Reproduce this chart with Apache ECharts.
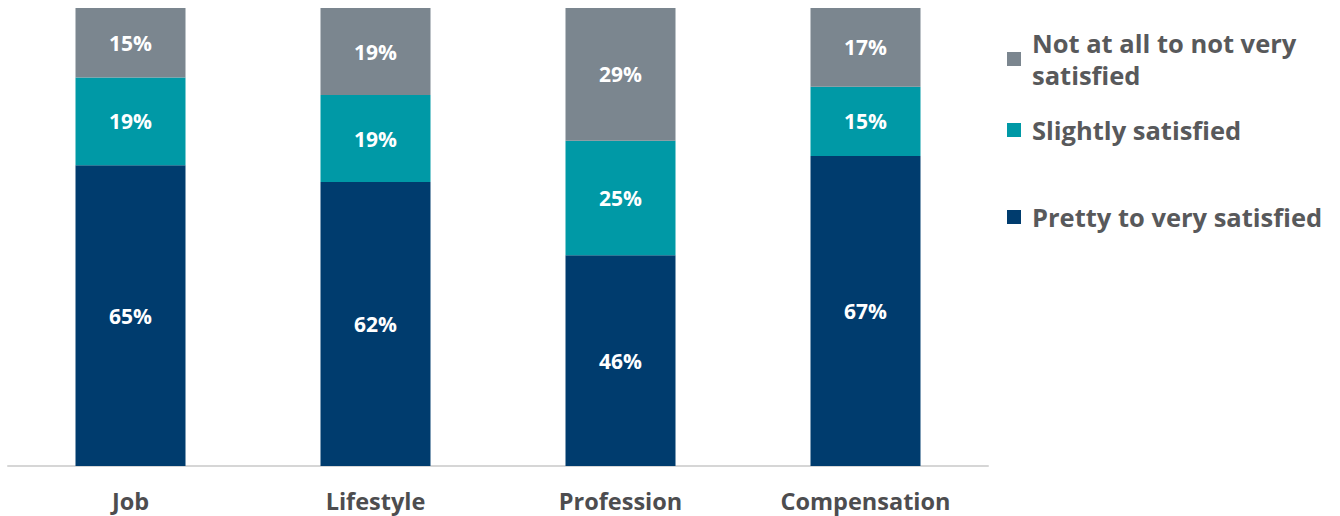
<!DOCTYPE html>
<html>
<head>
<meta charset="utf-8">
<script src="https://cdn.jsdelivr.net/npm/echarts@6/dist/echarts.min.js"></script>
<style>
  html, body { margin: 0; padding: 0; background: #fff; }
  #chart { width: 1340px; height: 516px; }
</style>
</head>
<body>
<div id="chart"></div>
<script>
const categories = ['Job', 'Lifestyle', 'Profession', 'Compensation'];
const prettyToVery = [65, 62, 46, 67];
const slightly = [19, 19, 25, 15];
const notAtAll = [15, 19, 29, 17];

const seriesNames = ['Pretty to very satisfied', 'Slightly satisfied', 'Not at all to not very satisfied'];
const colors = ['#003c6e', '#0099a6', '#7b868f'];

// each bar is drawn as a 100% stack
const totals = categories.map((_, i) => prettyToVery[i] + slightly[i] + notAtAll[i]);
const share = arr => arr.map((v, i) => ({ value: v / totals[i] * 100, raw: v }));

const chart = echarts.init(document.getElementById('chart'), null, { renderer: 'svg' });

const labelFont = '"Open Sans", Lato, sans-serif';

const makeSeries = (name, arr, color) => ({
  name,
  type: 'bar',
  stack: 'total',
  barWidth: 110,
  data: share(arr),
  itemStyle: { color },
  label: {
    show: true,
    position: 'inside',
    color: '#fff',
    fontFamily: labelFont,
    fontWeight: 'bold',
    fontSize: 21,
    formatter: p => p.data.raw + '%'
  }
});

const legendBase = {
  orient: 'vertical',
  left: 1002,
  icon: 'rect',
  itemWidth: 14,
  itemHeight: 14,
  selectedMode: false,
  textStyle: {
    color: '#58595b',
    fontFamily: labelFont,
    fontWeight: 'bold',
    fontSize: 25.5,
    lineHeight: 32,
    padding: [0, 0, 0, 6]
  }
};

chart.setOption({
  animation: false,
  color: colors,
  grid: { left: 8, right: 352, top: 8, bottom: 50 },
  legend: [
    {
      ...legendBase,
      top: 6,
      data: [seriesNames[2]],
      formatter: () => 'Not at all to not very\nsatisfied',
      textStyle: { ...legendBase.textStyle, padding: [32, 0, 0, 6] }
    },
    { ...legendBase, top: 109, data: [seriesNames[1]] },
    { ...legendBase, top: 196, data: [seriesNames[0]] }
  ],
  xAxis: {
    type: 'category',
    data: categories,
    axisLine: { lineStyle: { color: '#d6d6d6', width: 2 } },
    axisTick: { show: false },
    axisLabel: {
      margin: 23,
      color: '#4d4d4f',
      fontFamily: labelFont,
      fontWeight: 'bold',
      fontSize: 23.5
    }
  },
  yAxis: {
    type: 'value',
    min: 0,
    max: 100,
    show: false
  },
  series: [
    makeSeries(seriesNames[0], prettyToVery, colors[0]),
    makeSeries(seriesNames[1], slightly, colors[1]),
    makeSeries(seriesNames[2], notAtAll, colors[2])
  ]
});
</script>
</body>
</html>
